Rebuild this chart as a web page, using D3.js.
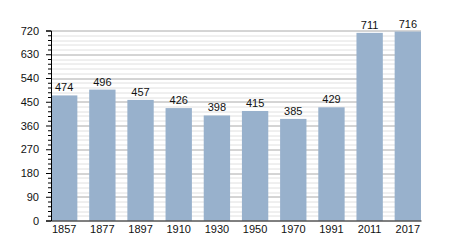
<!DOCTYPE html>
<html>
<head>
<meta charset="utf-8">
<script src="https://cdn.jsdelivr.net/npm/d3@7"></script>
<style>
  body { margin: 0; background: #fff; }
  svg { display: block; font-family: "Liberation Sans", Arial, sans-serif; }
</style>
</head>
<body>
<div id="chart"></div>
<script>
const years = ["1857", "1877", "1897", "1910", "1930", "1950", "1970", "1991", "2011", "2017"];
const population = [474, 496, 457, 426, 398, 415, 385, 429, 711, 716];
const yTicks = [0, 90, 180, 270, 360, 450, 540, 630, 720];

const width = 450, height = 250;
const margin = { top: 30.5, right: 29, bottom: 29.5, left: 51 };
const w = width - margin.left - margin.right;
const h = height - margin.top - margin.bottom;

const svg = d3.select("#chart").append("svg")
  .attr("width", width)
  .attr("height", height);

const chart = svg.append("g")
  .attr("transform", `translate(${margin.left},${margin.top})`);

const x = d3.scaleBand().domain(years).range([0, w]).paddingInner(0.31).paddingOuter(0);
const y = d3.scaleLinear().domain([0, 720]).range([h, 0]);

// minor gridlines every 18
const minor = d3.range(0, 721, 18).filter(v => v % 90 !== 0);
chart.append("g").selectAll("line")
  .data(minor)
  .enter().append("line")
  .attr("x1", 0).attr("x2", w)
  .attr("y1", d => Math.round(y(d)) + 0.5).attr("y2", d => Math.round(y(d)) + 0.5)
  .attr("stroke", "#e0e0e0");

// major gridlines
chart.append("g").selectAll("line")
  .data(yTicks.filter(v => v > 0))
  .enter().append("line")
  .attr("x1", 0).attr("x2", w)
  .attr("y1", d => Math.round(y(d)) + 0.5).attr("y2", d => Math.round(y(d)) + 0.5)
  .attr("stroke", "#aaaaaa");

// bars
chart.append("g").selectAll("rect")
  .data(population)
  .enter().append("rect")
  .attr("x", (d, i) => x(years[i]))
  .attr("y", d => y(d))
  .attr("width", x.bandwidth())
  .attr("height", d => h - y(d))
  .attr("fill", "#98b1cc");

// value labels
chart.append("g").selectAll("text")
  .data(population)
  .enter().append("text")
  .attr("x", (d, i) => x(years[i]) + x.bandwidth() / 2)
  .attr("y", d => y(d) - 4)
  .attr("text-anchor", "middle")
  .attr("font-size", 11)
  .attr("fill", "#111")
  .text(d => d);

// y axis
const yAxis = chart.append("g")
  .call(d3.axisLeft(y).tickValues(yTicks).tickSize(5).tickPadding(7));
yAxis.select(".domain").attr("stroke", "#000");
yAxis.selectAll("text").attr("font-size", 11).attr("fill", "#111");
yAxis.selectAll("line").attr("stroke", "#000");

chart.append("g")
  .call(d3.axisLeft(y).tickValues(minor).tickSize(3).tickFormat(""))
  .call(g => g.select(".domain").remove())
  .selectAll("line").attr("stroke", "#000");

// x axis
const xAxis = chart.append("g")
  .attr("transform", `translate(0,${h})`)
  .call(d3.axisBottom(x).tickSize(0).tickSizeOuter(0).tickPadding(5));
xAxis.select(".domain").attr("stroke", "#000");
xAxis.selectAll("text").attr("font-size", 11).attr("fill", "#111");
</script>
</body>
</html>
